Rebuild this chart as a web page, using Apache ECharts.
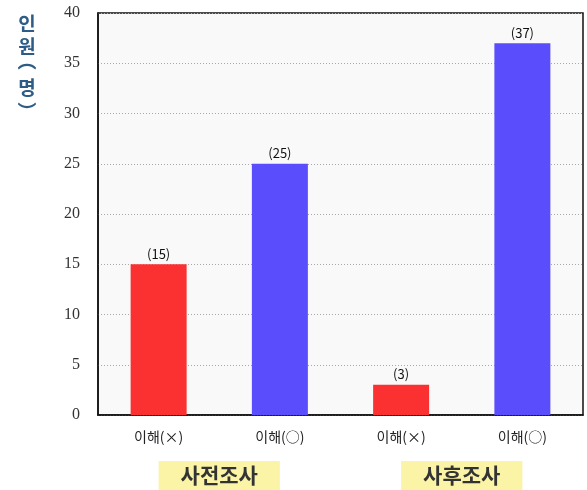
<!DOCTYPE html>
<html>
<head>
<meta charset="utf-8">
<script src="https://cdn.jsdelivr.net/npm/echarts@6/dist/echarts.min.js"></script>
<style>
  html, body { margin: 0; padding: 0; background: #fff; }
  #chart { width: 587px; height: 490px; }
</style>
</head>
<body>
<div id="chart"></div>
<script>
// Survey responses: understanding (×/○) before and after the lesson
const categories = ['이해(×)', '이해(○)', '이해(×)', '이해(○)'];
const counts = [15, 25, 3, 37];
const barColors = ['#fb3131', '#5a4dfb', '#fb3131', '#5a4dfb'];
const groups = ['사전조사', '사후조사'];
const yMin = 0, yMax = 40, yStep = 5;

// Vertical axis title, stacked glyph by glyph (vertical-form brackets)
const titleGlyphs = [
  { ch: '인', y: 24 },
  { ch: '원', y: 47 },
  { ch: '︵', y: 61 },
  { ch: '명', y: 88 },
  { ch: '︶', y: 112 }
];

const chart = echarts.init(document.getElementById('chart'));
chart.setOption({
  animation: false,
  backgroundColor: '#ffffff',
  grid: {
    left: 98, right: 4, top: 13, bottom: 75,
    show: true, backgroundColor: '#f9f9f9',
    borderColor: '#111', borderWidth: 1.5
  },
  xAxis: [{
    type: 'category',
    data: categories,
    axisLine: { lineStyle: { color: '#111', width: 1.5 } },
    axisTick: { inside: true, length: 6, lineStyle: { color: '#111', width: 1.5 } },
    axisLabel: {
      margin: 15,
      fontFamily: 'Noto Sans CJK KR',
      fontSize: 14, color: '#222'
    }
  }, {
    type: 'category',
    data: groups,
    position: 'bottom',
    axisLine: { show: false },
    axisTick: { show: false },
    axisLabel: {
      margin: 46,
      fontFamily: 'Noto Sans CJK KR',
      fontWeight: 'bold',
      fontSize: 21, color: '#333',
      backgroundColor: '#fbf4a6',
      padding: [4, 22, 4, 22]
    }
  }],
  yAxis: {
    type: 'value',
    min: yMin, max: yMax, interval: yStep,
    axisLine: { show: true, lineStyle: { color: '#111', width: 1.5 } },
    axisTick: { show: false },
    axisLabel: {
      margin: 18,
      fontFamily: 'Liberation Serif',
      fontSize: 16, color: '#333'
    },
    splitLine: { lineStyle: { color: '#a8a8a8', type: [1, 2], width: 1 } }
  },
  graphic: titleGlyphs.map(g => ({
    type: 'text',
    x: 27, y: g.y,
    style: {
      text: g.ch,
      align: 'center',
      verticalAlign: 'middle',
      fontFamily: 'Noto Sans CJK KR',
      fontWeight: 'bold',
      fontSize: 19,
      fill: '#2d5d86'
    }
  })),
  series: [{
    type: 'bar',
    xAxisIndex: 0,
    barWidth: 56,
    data: counts.map((v, i) => ({ value: v, itemStyle: { color: barColors[i] } })),
    label: {
      show: true,
      position: 'top',
      distance: 4,
      formatter: p => '(' + p.value + ')',
      fontFamily: 'Noto Sans CJK KR',
      fontSize: 13,
      color: '#111'
    }
  }]
});
</script>
</body>
</html>
